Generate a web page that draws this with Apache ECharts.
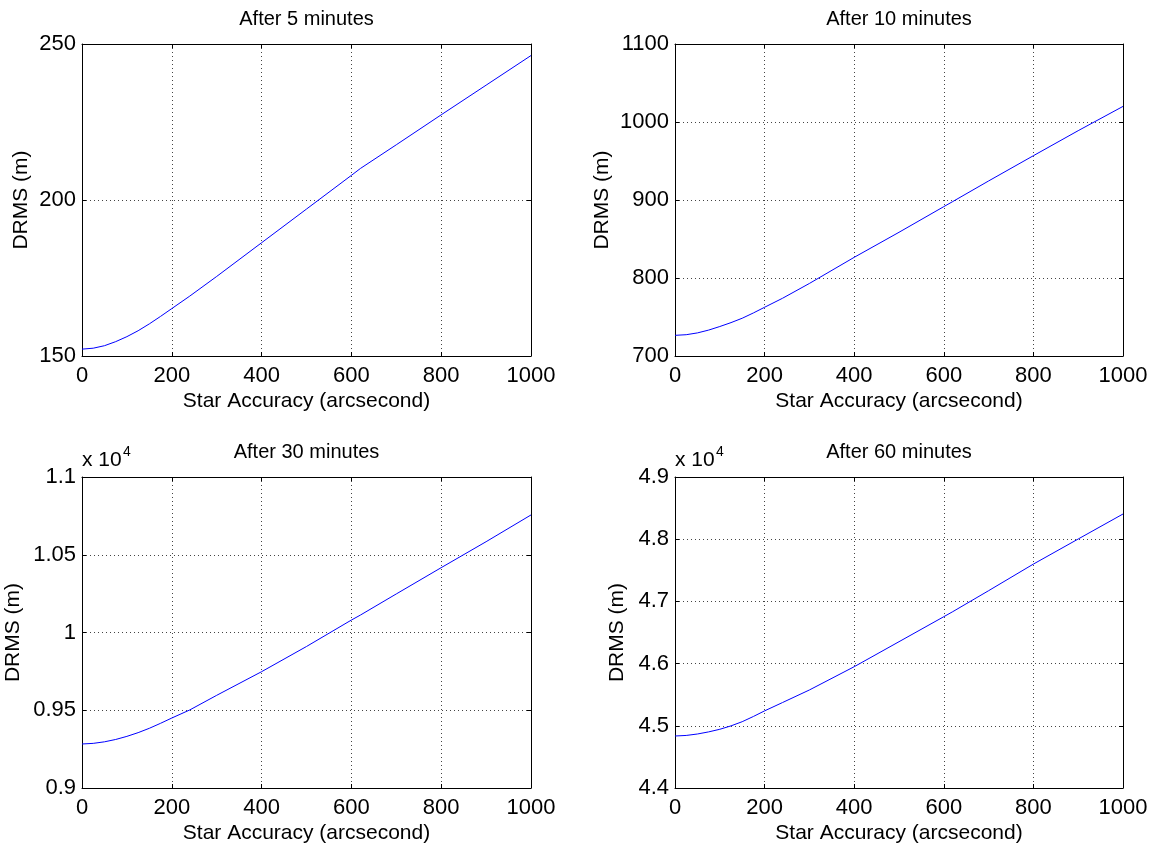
<!DOCTYPE html>
<html>
<head>
<meta charset="utf-8">
<script src="https://cdn.jsdelivr.net/npm/echarts@6/dist/echarts.min.js"></script>
<style>
html,body{margin:0;padding:0;background:#fff;}
#chart{width:1157px;height:850px;}
</style>
</head>
<body>
<div id="chart"></div>
<script>
// ---- data ----
const accuracy = [0, 25, 50, 75, 100, 125, 150, 175, 200, 240, 300, 400, 500, 600, 620, 700, 800, 900, 1000];
const drms5  = [152.2, 152.5, 153.3, 154.6, 156.2, 158.1, 160.3, 162.7, 165.2, 169.2, 175.5, 186.3, 197.1, 207.9, 210.1, 217.7, 227.3, 236.8, 246.3];
const drms10 = [726.5, 727.3, 729.6, 733.2, 737.8, 742.8, 748.4, 755.2, 762.5, 774.0, 793.0, 826.5, 858.6, 891.5, 898.0, 924.4, 956.8, 988.9, 1020.0];
const drms30 = [0.9283, 0.9287, 0.9297, 0.9312, 0.9332, 0.9356, 0.9384, 0.9416, 0.9450, 0.9502, 0.9596, 0.9748, 0.9910, 1.0080, 1.0112, 1.0248, 1.0417, 1.0584, 1.0756]; // x 10^4
const drms60 = [4.4836, 4.4845, 4.4868, 4.4902, 4.4944, 4.4999, 4.5066, 4.5150, 4.5240, 4.5374, 4.5576, 4.5950, 4.6352, 4.6754, 4.6835, 4.7172, 4.7600, 4.8003, 4.8405]; // x 10^4
const titles = ['After 5 minutes', 'After 10 minutes', 'After 30 minutes', 'After 60 minutes'];
const xTicks = [0, 200, 400, 600, 800, 1000];
const yTicks5  = [150, 200, 250];
const yTicks10 = [700, 800, 900, 1000, 1100];
const yTicks30 = [0.9, 0.95, 1, 1.05, 1.1];
const yTicks60 = [4.4, 4.5, 4.6, 4.7, 4.8, 4.9];
const xName = 'Star Accuracy (arcsecond)';
const yName = 'DRMS (m)';
const exponentBase = 'x 10';
const exponentPower = '4';

// ---- layout ----
const FONT = '"Liberation Sans", Arial, Helvetica, sans-serif';
const panels = [
  {vals: drms5,  ticks: yTicks5,  left: 82,  top: 44,  width: 449, height: 312, nameGap: 50, exp: false},
  {vals: drms10, ticks: yTicks10, left: 675, top: 44,  width: 448, height: 312, nameGap: 62, exp: false},
  {vals: drms30, ticks: yTicks30, left: 82,  top: 477, width: 449, height: 311, nameGap: 58, exp: true},
  {vals: drms60, ticks: yTicks60, left: 675, top: 477, width: 448, height: 311, nameGap: 47, exp: true}
];

const fmt = v => String(parseFloat((+v).toFixed(4)));
const grids = [], xAxes = [], yAxes = [], series = [], titleArr = [], graphics = [];
const gridLine = {show: true, lineStyle: {color: '#444', width: 1, type: [1, 3]}};
const axisLine = {show: true, onZero: false, lineStyle: {color: '#000', width: 1}};
const tick = {show: true, inside: true, length: 4, lineStyle: {color: '#000'}};
const labelStyle = {color: '#000', fontSize: 22, fontFamily: FONT, formatter: fmt};
const nameStyle = {color: '#000', fontSize: 21, fontFamily: FONT};

panels.forEach((p, i) => {
  grids.push({left: p.left, top: p.top, width: p.width, height: p.height, containLabel: false});
  const xmin = xTicks[0], xmax = xTicks[xTicks.length - 1], xint = xTicks[1] - xTicks[0];
  const ymin = p.ticks[0], ymax = p.ticks[p.ticks.length - 1];
  const yint = +(p.ticks[1] - p.ticks[0]).toFixed(6);
  xAxes.push({
    type: 'value', gridIndex: i, position: 'bottom', min: xmin, max: xmax, interval: xint,
    axisLine, axisTick: tick, splitLine: gridLine,
    axisLabel: Object.assign({margin: 9}, labelStyle),
    name: xName, nameLocation: 'middle', nameGap: 35, nameTextStyle: nameStyle
  });
  xAxes.push({
    type: 'value', gridIndex: i, position: 'top', min: xmin, max: xmax, interval: xint,
    axisLine, axisTick: tick, splitLine: {show: false}, axisLabel: {show: false}
  });
  yAxes.push({
    type: 'value', gridIndex: i, position: 'left', min: ymin, max: ymax, interval: yint,
    axisLine, axisTick: tick, splitLine: gridLine,
    axisLabel: Object.assign({margin: 6}, labelStyle),
    name: yName, nameLocation: 'middle', nameGap: p.nameGap, nameTextStyle: nameStyle
  });
  yAxes.push({
    type: 'value', gridIndex: i, position: 'right', min: ymin, max: ymax, interval: yint,
    axisLine, axisTick: tick, splitLine: {show: false}, axisLabel: {show: false}
  });
  series.push({
    type: 'line', xAxisIndex: 2 * i, yAxisIndex: 2 * i,
    data: accuracy.map((x, k) => [x, p.vals[k]]),
    showSymbol: false, symbol: 'none', smooth: false,
    lineStyle: {color: '#0000ff', width: 1}, silent: true, animation: false
  });
  titleArr.push({
    text: titles[i], left: p.left + p.width / 2, top: p.top - 35, textAlign: 'center', padding: 0,
    textStyle: {color: '#000', fontSize: 20, fontWeight: 'normal', fontFamily: FONT}
  });
  if (p.exp) {
    graphics.push({type: 'text', left: p.left, top: p.top - 27,
      style: {text: exponentBase, fill: '#000', font: '21px ' + FONT}});
    graphics.push({type: 'text', left: p.left + 41, top: p.top - 32,
      style: {text: exponentPower, fill: '#000', font: '14px ' + FONT}});
  }
});

const chart = echarts.init(document.getElementById('chart'), null, {renderer: 'canvas'});
chart.setOption({
  animation: false,
  backgroundColor: '#fff',
  title: titleArr,
  grid: grids,
  xAxis: xAxes,
  yAxis: yAxes,
  series: series,
  graphic: graphics
});
</script>
</body>
</html>
